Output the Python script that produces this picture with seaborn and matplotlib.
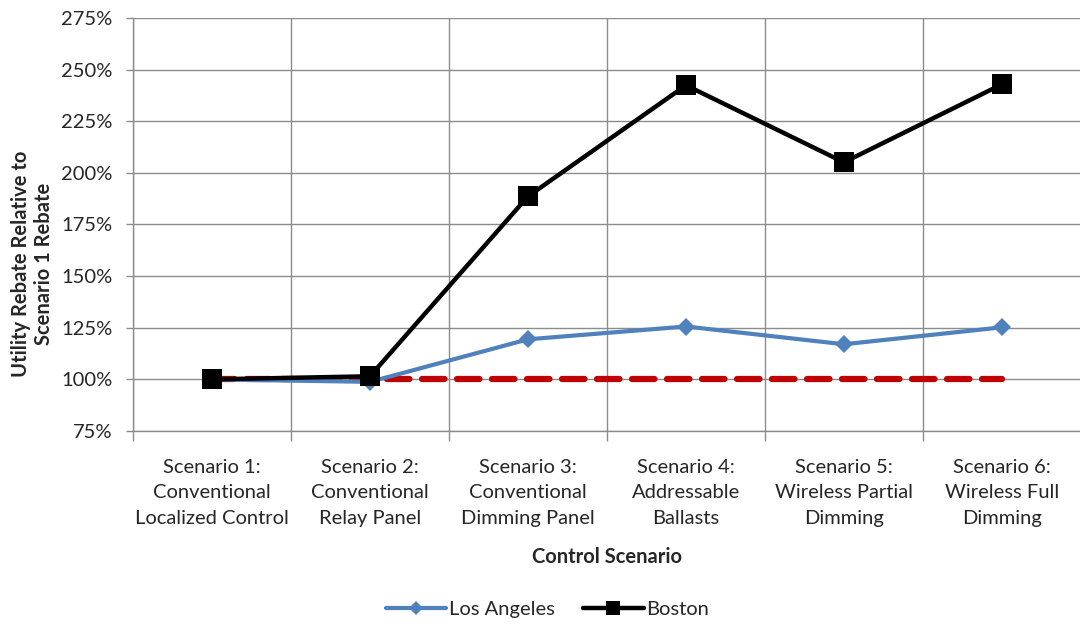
import numpy as np
import pandas as pd
import seaborn as sns
import matplotlib.pyplot as plt
from matplotlib.ticker import FixedLocator, PercentFormatter
from matplotlib.lines import Line2D

# data
scenarios = ['Scenario 1:\nConventional\nLocalized Control',
             'Scenario 2:\nConventional\nRelay Panel',
             'Scenario 3:\nConventional\nDimming Panel',
             'Scenario 4:\nAddressable\nBallasts',
             'Scenario 5:\nWireless Partial\nDimming',
             'Scenario 6:\nWireless Full\nDimming']
los_angeles = [100, 98.8, 119.4, 125.6, 117.0, 125.2]
boston = [100, 101.5, 188.6, 242.4, 205.1, 242.9]
baseline = [100, 100, 100, 100, 100, 100]

sns.set_style('white')
plt.rcParams['font.family'] = ['Lato', 'DejaVu Sans']

pos = np.arange(len(scenarios))
df = pd.DataFrame({'pos': pos, 'LA': los_angeles, 'Boston': boston, 'Base': baseline})

fig = plt.figure(figsize=(10.8, 6.24), dpi=100)
ax = fig.add_axes([0.1231, 0.3093, 0.8778, 0.6619])

grid_c = '#8c8c8c'
sns.lineplot(data=df, x='pos', y='Base', ax=ax, color='#C00000', linewidth=4.5,
             dashes=False, zorder=2)
ax.lines[-1].set_linestyle((0, (3.6, 2.0)))
ax.lines[-1].set_dash_capstyle('round')
sns.lineplot(data=df, x='pos', y='LA', ax=ax, color='#4F81BD', linewidth=3,
             marker='D', markersize=9, markeredgewidth=0, zorder=3)
sns.lineplot(data=df, x='pos', y='Boston', ax=ax, color='black', linewidth=3.2,
             marker='s', markersize=15, markeredgewidth=0, zorder=4)

ax.set_xlim(-0.5, 5.5)
ax.set_ylim(75, 275)
ax.set_yticks(np.arange(75, 276, 25))
ax.yaxis.set_major_formatter(PercentFormatter(decimals=0))
ax.set_xticks(pos)
ax.set_xticklabels(scenarios, fontsize=14.5, linespacing=1.62)
ax.xaxis.set_minor_locator(FixedLocator(np.arange(-0.5, 5.6, 1)))
ax.tick_params(axis='x', which='major', length=0, pad=20)
ax.tick_params(axis='x', which='minor', length=7, color=grid_c, width=1, direction='out')
ax.tick_params(axis='y', length=5, color=grid_c, width=1, direction='out', labelsize=14.5, pad=10)
ax.tick_params(axis='y', which='major', left=True)
ax.tick_params(axis='x', which='minor', bottom=True)

ax.grid(True, axis='y', which='major', color=grid_c, linewidth=1)
ax.grid(True, axis='x', which='minor', color=grid_c, linewidth=1)
ax.grid(False, axis='x', which='major')
for s in ['top', 'right']:
    ax.spines[s].set_visible(False)
for s in ['left', 'bottom']:
    ax.spines[s].set_color(grid_c)
    ax.spines[s].set_linewidth(1)

ax.set_xlabel('Control Scenario', fontsize=14.5, fontweight='bold', labelpad=14)
ax.set_ylabel('Utility Rebate Relative to\nScenario 1 Rebate', fontsize=14.5,
              fontweight='bold', linespacing=1.2)
ax.yaxis.set_label_coords(-0.083, 0.405)

handles = [Line2D([], [], color='#4F81BD', linewidth=3, marker='D', markersize=7, markeredgewidth=0),
           Line2D([], [], color='black', linewidth=3.2, marker='s', markersize=10, markeredgewidth=0)]
fig.legend(handles, ['Los Angeles', 'Boston'], loc='center', bbox_to_anchor=(0.507, 0.024),
           ncol=2, frameon=False, fontsize=14.5, handlelength=3.0, handletextpad=0.15,
           columnspacing=1.4)

fig.savefig('out.png', dpi=100)
